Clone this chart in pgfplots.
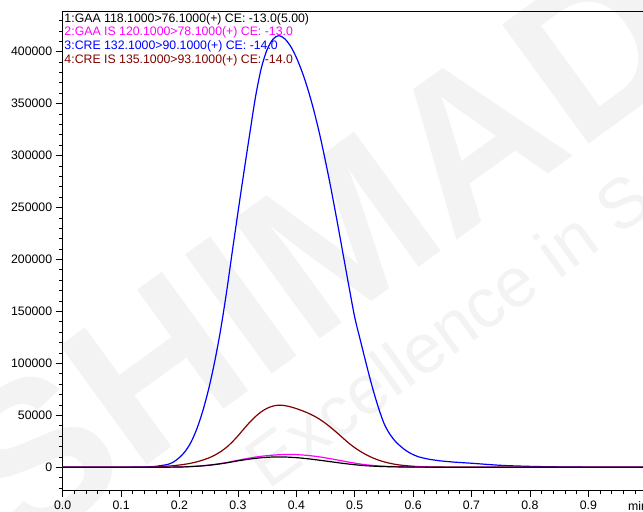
\documentclass[border=0pt]{standalone}
\usepackage{pgfplots}
\pgfplotsset{compat=1.18}
\usepackage{fontspec}
\setmainfont{Liberation Sans}

\definecolor{creis}{RGB}{128,0,0}
\definecolor{gaais}{RGB}{255,0,255}
\definecolor{cre}{RGB}{0,0,255}
\definecolor{wmark}{RGB}{243,243,243}

% retention time (min) vs. intensity, channel 3 (CRE)
\pgfplotstableread{
t      I
0.00   0
0.05   0
0.10   100
0.15   500
0.17   1800
0.18   2800
0.19   5200
0.20   9500
0.21   15500
0.22   24500
0.23   37500
0.24   54500
0.25   75500
0.26   101000
0.27   131000
0.28   166500
0.29   206000
0.30   245000
0.31   283000
0.32   320000
0.33   356000
0.34   384000
0.35   402000
0.36   412000
0.37   415500
0.38   412500
0.39   405500
0.40   394500
0.41   380500
0.42   363500
0.43   343500
0.44   320500
0.45   294500
0.46   266500
0.47   236500
0.48   205500
0.49   174500
0.50   144500
0.51   121500
0.52   99000
0.53   77500
0.54   58500
0.55   42500
0.56   32000
0.57   24800
0.58   19500
0.59   15300
0.60   12200
0.61   10000
0.62   8600
0.63   7500
0.64   6700
0.65   6000
0.67   5000
0.70   3900
0.75   1900
0.80   900
0.85   400
0.90   150
0.95   50
1.00   0
}\cre

% channel 4 (CRE IS)
\pgfplotstableread{
t      I
0.00   0
0.10   0
0.15   200
0.17   700
0.18   1100
0.19   1600
0.20   2200
0.21   3000
0.22   4000
0.23   5300
0.24   7000
0.25   9000
0.26   11600
0.27   14900
0.28   19000
0.29   24200
0.30   30200
0.31   36800
0.32   43200
0.33   48800
0.34   53400
0.35   56800
0.36   58900
0.37   59800
0.38   59400
0.39   58200
0.40   56500
0.41   54500
0.42   52200
0.43   49500
0.44   46200
0.45   42300
0.46   37900
0.47   33100
0.48   28100
0.49   23200
0.50   18900
0.51   15200
0.52   12000
0.53   9300
0.54   7100
0.55   5300
0.56   3900
0.57   2800
0.58   2000
0.60   1000
0.62   500
0.65   200
0.70   50
0.80   0
1.00   0
}\creis

% channel 2 (GAA IS)
\pgfplotstableread{
t      I
0.00   0
0.15   0
0.20   300
0.22   800
0.24   1500
0.26   2800
0.28   4500
0.30   6800
0.32   8900
0.34   10600
0.36   11700
0.38   12300
0.40   12200
0.42   11400
0.44   10000
0.46   8100
0.48   6000
0.50   4000
0.52   2400
0.55   1000
0.60   300
0.70   100
0.80   0
1.00   0
}\gaais

% channel 1 (GAA)
\pgfplotstableread{
t      I
0.00   0
0.15   0
0.20   300
0.22   700
0.24   1400
0.26   2600
0.28   4200
0.30   6200
0.32   7900
0.34   9200
0.36   9900
0.38   9900
0.40   9300
0.42   8200
0.44   6800
0.46   5300
0.48   3800
0.50   2500
0.52   1500
0.55   700
0.60   200
0.70   50
0.80   0
1.00   0
}\gaa

\newcommand\lbl{\fontsize{12.3bp}{14bp}\selectfont}

\begin{document}
\begin{tikzpicture}
\useasboundingbox (-62.7bp,-22bp) rectangle (580.3bp,490bp);
% background watermark
\node[rotate=36, text=wmark, inner sep=0pt,
      font=\fontsize{214bp}{214bp}\selectfont\bfseries] at (371bp,324bp) {SHIMADZU};
\node[rotate=36, text=wmark, inner sep=0pt,
      font=\fontsize{70bp}{70bp}\selectfont] at (467bp,220bp) {Excellence in Science};
\begin{axis}[
  at={(0,0)}, anchor=south west,
  scale only axis, width=584bp, height=478.5bp,
  xmin=0, xmax=1, ymin=-21850, ymax=438700,
  axis line style={line width=0.9bp},
  tick pos=left, tick align=outside,
  major tick length=7bp, minor tick length=4bp,
  every tick/.style={black, line width=0.8bp},
  xtick={0,0.1,...,0.9},
  minor xtick={0,0.02,...,1.0},
  ytick={0,50000,...,400000},
  minor ytick={-20000,-10000,...,430000},
  scaled ticks=false,
  /pgf/number format/assume math mode=true,
  every tick label/.append style={font=\lbl},
  xticklabel style={/pgf/number format/.cd, fixed, fixed zerofill, precision=1},
  yticklabel style={/pgf/number format/.cd, fixed, 1000 sep={}},
  xlabel={min},
  every axis x label/.style={at={(axis description cs:0.968,0)}, anchor=base west,
    yshift=-20bp, inner sep=0pt, font=\lbl},
  clip=true,
]
\addplot[cre, line width=1.2bp, smooth] table[x=t, y=I] {\cre};
\addplot[creis, line width=1.2bp, smooth] table[x=t, y=I] {\creis};
\addplot[gaais, line width=1.2bp, smooth] table[x=t, y=I] {\gaais};
\addplot[black, line width=1.2bp, smooth] table[x=t, y=I] {\gaa};

\node[anchor=base west, inner sep=0pt, font=\lbl, text=black, xshift=1.6bp, yshift=-10.8bp]
  at (rel axis cs:0,1) {1:GAA 118.1000>76.1000(+) CE: -13.0(5.00)};
\node[anchor=base west, inner sep=0pt, font=\lbl, text=gaais, xshift=1.6bp, yshift=-24.4bp]
  at (rel axis cs:0,1) {2:GAA IS 120.1000>78.1000(+) CE: -13.0};
\node[anchor=base west, inner sep=0pt, font=\lbl, text=cre, xshift=1.6bp, yshift=-38bp]
  at (rel axis cs:0,1) {3:CRE 132.1000>90.1000(+) CE: -14.0};
\node[anchor=base west, inner sep=0pt, font=\lbl, text=creis, xshift=1.6bp, yshift=-51.6bp]
  at (rel axis cs:0,1) {4:CRE IS 135.1000>93.1000(+) CE: -14.0};
\end{axis}
\end{tikzpicture}
\end{document}
